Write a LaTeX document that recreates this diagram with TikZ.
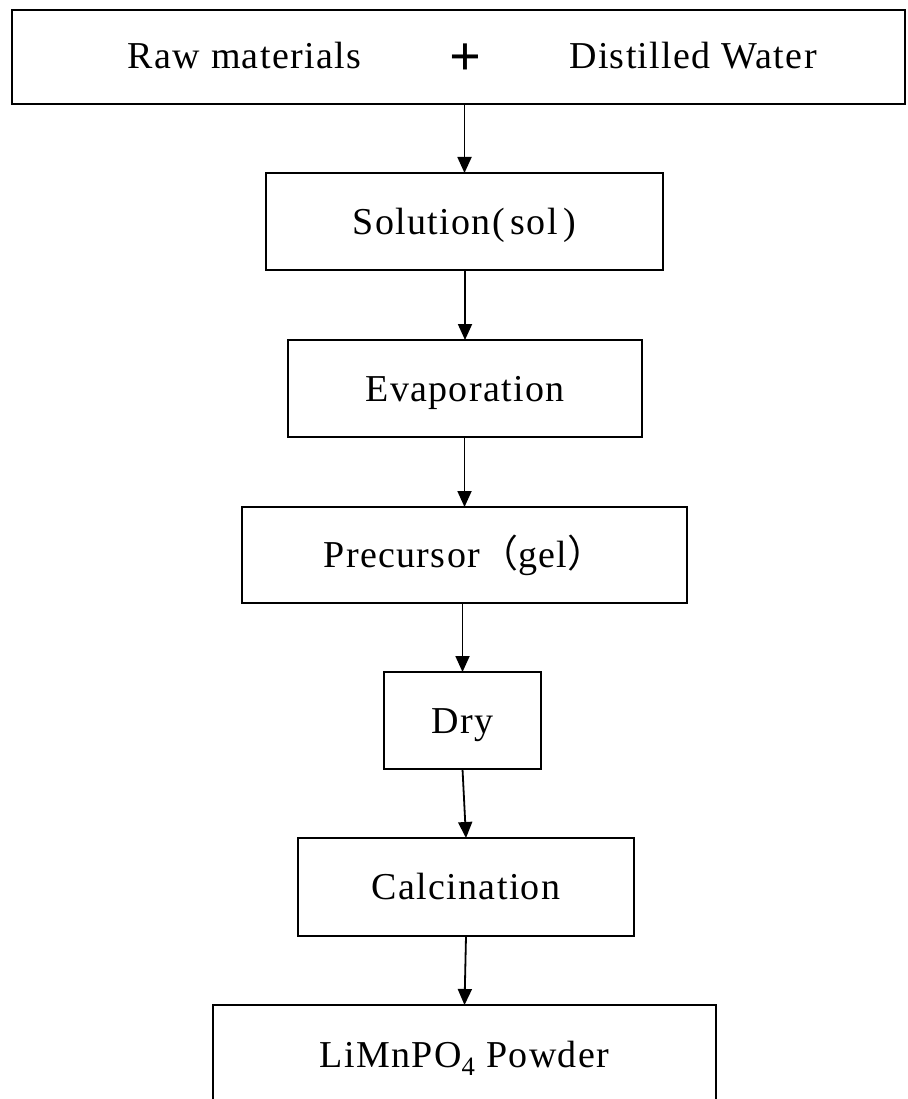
\documentclass[tikz,border=0pt]{standalone}
\usepackage{fontspec}
\setmainfont{Liberation Serif}[LetterSpace=3.5]
\newfontfamily\cjk{Noto Sans CJK SC}
\usetikzlibrary{arrows.meta}
\tikzset{
  box/.style={draw=black, line width=2.2pt, rectangle, inner sep=0pt, outer sep=0pt,
    text height=25pt, text depth=0pt, font=\fontsize{38}{44}\selectfont},
  lbl/.style={inner sep=0pt, text height=25pt, text depth=0pt, font=\fontsize{38}{44}\selectfont},
  arr/.style={draw=black, line width=1.8pt, -{Triangle[width=14pt,length=16pt]}}
}
\begin{document}
\begin{tikzpicture}[x=1pt,y=-1pt]
\useasboundingbox (0,0) rectangle (907,1099);
\clip (0,0) rectangle (907,1099);
\node[box, minimum width=893pt, minimum height=94pt] (top) at (458.5,57) {};
\node[lbl] (raw) at (244.5,56) {Raw materials};
\node[inner sep=0pt, anchor=base, font=\fontsize{56}{60}\selectfont\bfseries] (plus) at (465,76) {+};
\node[lbl] (water) at (693,56) {Distilled Water};
\node[box, minimum width=397pt, minimum height=97pt] (sol) at (464.5,221.5) {Solution(\hspace{6pt}sol\hspace{6pt})};
\node[box, minimum width=354pt, minimum height=97pt] (evap) at (465,388.5) {Evaporation};
\node[box, minimum width=445pt, minimum height=96pt] (prec) at (464.5,555) {Precursor{\cjk （}gel{\cjk ）}};
\node[box, minimum width=157pt, minimum height=97pt] (dry) at (462.5,720.5) {Dry};
\node[box, minimum width=336pt, minimum height=98pt] (calc) at (466,887) {Calcination};
\node[box, minimum width=503pt, minimum height=99pt] (powder) at (464.5,1054.5) {LiMnPO\textsubscript{4} Powder};
\draw[arr] (top.south -| sol.north) -- (sol.north);
\draw[arr] (sol.south -| evap.north) -- (evap.north);
\draw[arr] (evap.south -| prec.north) -- (prec.north);
\draw[arr] (prec.south -| dry.north) -- (dry.north);
\draw[arr] (dry.south) -- (calc.north);
\draw[arr] (calc.south) -- (powder.north);
\end{tikzpicture}
\end{document}
